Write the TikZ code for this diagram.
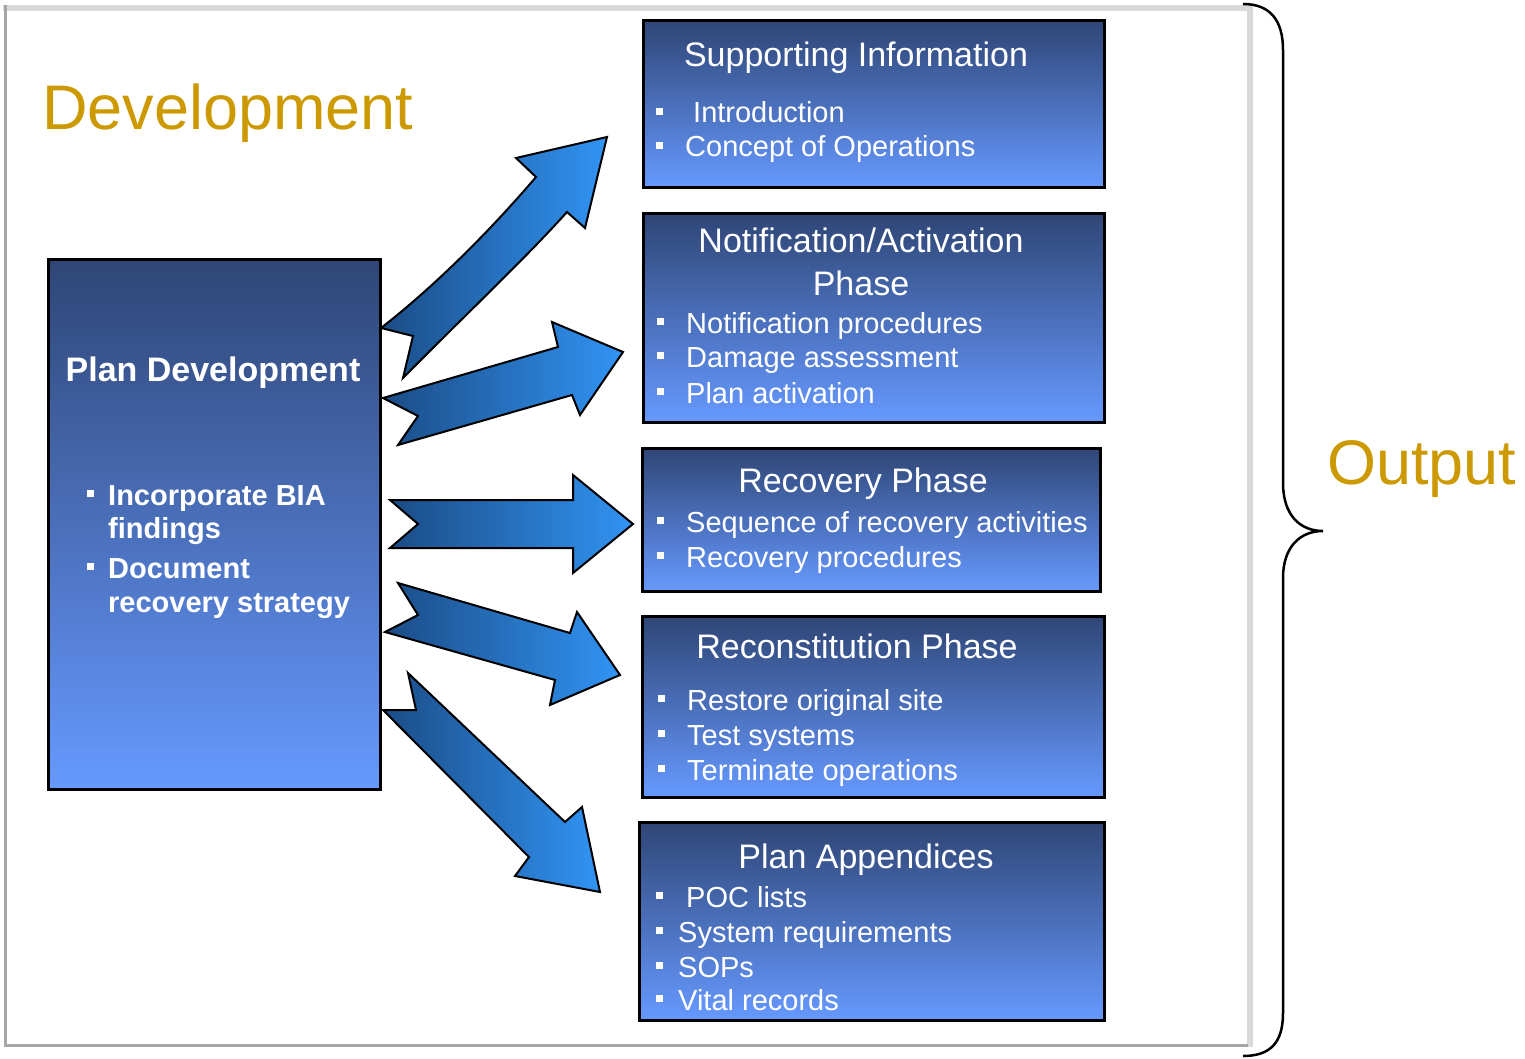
\documentclass[tikz,border=0pt]{standalone}
\usepackage{fontspec}
\setmainfont{Liberation Sans}
\definecolor{boxtop}{HTML}{2F4676}
\definecolor{boxbot}{HTML}{6699FF}
\definecolor{arrdark}{HTML}{1B4C86}
\definecolor{arrlight}{HTML}{3194F4}
\definecolor{gold}{HTML}{CC9900}
\definecolor{framelight}{HTML}{D9D9D9}
\definecolor{framedark}{HTML}{A6A6A6}
% square bullet hanging to the left of a line, #1 = gap before the text
\newcommand\bul[1][22pt]{\llap{\rule[8pt]{7pt}{7pt}\hspace{#1}}}
\begin{document}
\begin{tikzpicture}[x=1pt,y=-1pt,
  box/.style={draw=black, line width=3pt, top color=boxtop, bottom color=boxbot,
    anchor=north west, inner sep=0pt, outer sep=0pt},
  ttl/.style={text=white, font=\fontsize{34}{40}\selectfont, anchor=base, inner sep=0pt},
  itm/.style={text=white, font=\fontsize{29}{35}\selectfont, anchor=base west, inner sep=0pt},
  pitm/.style={text=white, font=\bfseries\fontsize{29}{35}\selectfont, anchor=base west, inner sep=0pt},
  blk/.style={draw=black, line width=2pt, line join=miter, left color=arrdark, right color=arrlight},
  lbl/.style={text=gold, font=\fontsize{63}{70}\selectfont, anchor=base west, inner sep=0pt}]
\useasboundingbox (0,0) rectangle (1525,1059);

% sunken frame around the development area
\draw[line width=6pt, framelight] (3,8) -- (1250,8);
\draw[line width=6pt, framelight] (1250,5) -- (1250,1047);
\draw[line width=3pt, framedark] (5.5,5) -- (5.5,1047);
\draw[line width=3.5pt, framedark] (4,1045.5) -- (1248,1045.5);

% brace collecting the outputs
\draw[line width=2.5pt] (1243,4) .. controls (1270,4) and (1283,20) .. (1283,50)
  -- (1283,483) .. controls (1283,515) and (1300,531) .. (1323,531)
  .. controls (1300,531) and (1283,547) .. (1283,578)
  -- (1283,1013) .. controls (1283,1043) and (1270,1056) .. (1243,1056);

\node[lbl] (dev) at (42,130) {Development};
\node[lbl] (out) at (1327,484) {Output};

% source box
\node[box, minimum width=332pt, minimum height=530pt] (plan) at (48.5,259.5) {};
\node[font=\bfseries\fontsize{34}{40}\selectfont, text=white, anchor=base, inner sep=0pt] (planT) at (213,381) {Plan Development};
\node[pitm] (p1) at (108,505) {\bul[14pt]Incorporate BIA};
\node[pitm] (p2) at (108,538) {findings};
\node[pitm] (p3) at (108,578) {\bul[14pt]Document};
\node[pitm] (p4) at (108,612) {recovery strategy};

% output boxes
\node[box, minimum width=461pt, minimum height=167pt] (sup) at (643,21) {};
\node[ttl] (supT) at (856,67) {Supporting Information};
\node[itm] (s1) at (693,123) {\bul[30pt]Introduction};
\node[itm] (s2) at (685,157) {\bul Concept of Operations};

\node[box, minimum width=461pt, minimum height=208pt] (notif) at (643,214) {};
\node[ttl] (notifT) at (861,253) {Notification/Activation};
\node[ttl] (notifT2) at (861,295) {Phase};
\node[itm] (n1) at (686,333) {\bul Notification procedures};
\node[itm] (n2) at (686,367) {\bul Damage assessment};
\node[itm] (n3) at (686,403) {\bul Plan activation};

\node[box, minimum width=458pt, minimum height=143pt] (reco) at (642.5,448) {};
\node[ttl] (recoT) at (863,492) {Recovery Phase};
\node[itm] (r1) at (686,532) {\bul Sequence of recovery activities};
\node[itm] (r2) at (686,567) {\bul Recovery procedures};

\node[box, minimum width=461.5pt, minimum height=181pt] (recon) at (642.5,616) {};
\node[ttl] (reconT) at (857,658) {Reconstitution Phase};
\node[itm] (c1) at (687,710) {\bul Restore original site};
\node[itm] (c2) at (687,745) {\bul Test systems};
\node[itm] (c3) at (687,780) {\bul Terminate operations};

\node[box, minimum width=464.5pt, minimum height=198pt] (app) at (639.5,822.5) {};
\node[ttl] (appT) at (866,868) {Plan Appendices};
\node[itm] (a1) at (686,907) {\bul[23pt]POC lists};
\node[itm] (a2) at (678,942) {\bul[15pt]System requirements};
\node[itm] (a3) at (678,977) {\bul[15pt]SOPs};
\node[itm] (a4) at (678,1010) {\bul[15pt]Vital records};

% notched block arrows from the plan to each output
\path[blk] (381,328) .. controls (440,282) and (495,225) .. (536,177)
  -- (516,158) -- (607,137) -- (585,228) -- (567,212)
  .. controls (522,262) and (462,318) .. (403,378) -- (413,336) -- cycle;
\path[blk] (383,398) -- (558,347) -- (552,322) -- (623,352) -- (580,415)
  -- (572,395) -- (398,445) -- (418,416) -- cycle;
\path[blk] (390,500) -- (573,500) -- (573,475) -- (633,524) -- (573,573)
  -- (573,548) -- (390,548) -- (418,524) -- cycle;
\path[blk] (398,583) -- (570,633) -- (577,612) -- (620,675) -- (550,705)
  -- (555,680) -- (385,632) -- (418,615) -- cycle;
\path[blk] (408,673) -- (565,822) -- (582,807) -- (600,892) -- (515,876)
  -- (529,857) -- (383,710) -- (416,710) -- cycle;
\end{tikzpicture}
\end{document}
